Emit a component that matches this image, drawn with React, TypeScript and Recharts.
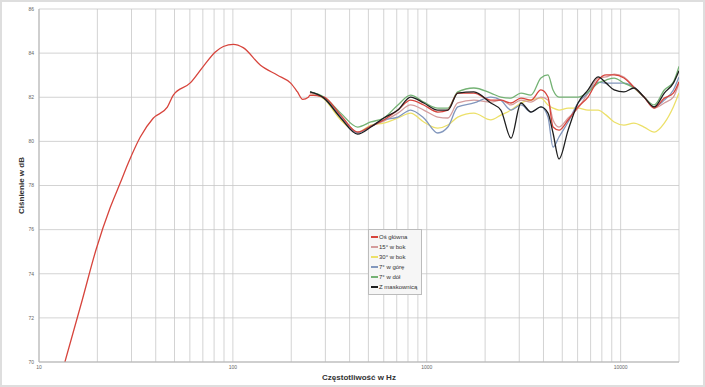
import React from 'react';
import {
  LineChart,
  Line,
  XAxis,
  YAxis,
  CartesianGrid,
  Legend,
} from 'recharts';

// low-frequency part, only the main axis was measured there
const lowFreq = [13.6, 16.7, 19.7, 23.3, 26.2, 28.8, 33.3, 38.8, 45.9, 49.3, 60.3, 70.4, 81.2, 89.3, 100.6, 113, 138.8, 170, 198, 215, 229, 245];
const lowMain = [70, 72.8, 75.1, 77.0, 78.1, 79.0, 80.2, 81.05, 81.55, 82.1, 82.65, 83.4, 84.05, 84.3, 84.4, 84.25, 83.45, 83.0, 82.65, 82.25, 81.9, 82.0];

// 250 Hz - 20 kHz, all six measurements
const freq = [250, 295, 360, 440, 515, 600, 710, 825, 965, 1140, 1285, 1445, 1750, 2140, 2410, 2720, 3060, 3450, 3880, 4220, 4480, 4810, 5360, 6030, 6790, 7650, 8420, 9260, 10400, 11700, 13200, 14900, 16800, 18700, 20000];
const mainAxis = [82.1, 82.01, 81.19, 80.42, 80.69, 80.97, 81.42, 81.87, 81.65, 81.33, 81.42, 82.19, 82.19, 81.87, 81.87, 81.74, 81.96, 81.87, 82.33, 82.01, 80.65, 80.51, 80.97, 81.56, 82.01, 82.78, 83.01, 83.01, 82.87, 82.46, 82.01, 81.51, 81.96, 82.19, 82.7];
const side15 = [82.19, 81.96, 81.15, 80.42, 80.69, 80.92, 81.28, 81.65, 81.42, 81.1, 81.06, 81.74, 81.87, 81.78, 81.87, 81.65, 81.87, 81.78, 82.01, 81.87, 80.97, 80.65, 81.06, 81.51, 82.19, 82.87, 82.92, 83.05, 82.92, 82.46, 82.01, 81.51, 81.74, 82.01, 82.64];
const side30 = [82.19, 81.92, 80.97, 80.42, 80.74, 80.83, 81.06, 81.28, 80.88, 80.6, 80.74, 81.1, 81.28, 80.97, 81.19, 81.42, 81.74, 81.87, 81.96, 81.65, 81.51, 81.42, 81.51, 81.51, 81.42, 81.42, 81.19, 80.88, 80.74, 80.83, 80.65, 80.42, 80.83, 81.56, 82.19];
const up7 = [82.24, 81.96, 81.1, 80.38, 80.69, 80.97, 81.1, 81.42, 81.06, 80.38, 80.65, 81.56, 81.74, 82.01, 81.87, 81.42, 81.65, 81.33, 81.56, 81.1, 79.74, 80.2, 80.88, 81.74, 82.19, 82.69, 82.64, 82.64, 82.64, 82.46, 82.01, 81.56, 81.87, 82.33, 82.92];
const down7 = [82.24, 82.01, 81.28, 80.65, 80.88, 81.06, 81.65, 82.1, 81.78, 81.51, 81.51, 82.24, 82.42, 82.19, 82.01, 81.96, 82.19, 82.1, 82.87, 83.01, 82.33, 82.01, 82.01, 82.01, 82.24, 82.64, 82.78, 82.87, 82.64, 82.42, 82.01, 81.65, 82.33, 82.69, 83.4];
const grill = [82.24, 81.96, 81.06, 80.33, 80.65, 81.06, 81.42, 82.01, 81.74, 81.42, 81.42, 82.19, 82.24, 81.74, 81.42, 80.15, 81.74, 81.33, 81.56, 81.28, 80.38, 79.2, 80.51, 81.74, 82.33, 82.92, 82.64, 82.33, 82.24, 82.42, 82.01, 81.56, 82.19, 82.64, 83.2];

const xGrid = [10, 20, 30, 40, 50, 60, 70, 80, 90, 100, 200, 300, 400, 500, 600, 700, 800, 900, 1000, 2000, 3000, 4000, 5000, 6000, 7000, 8000, 9000, 10000, 20000];
const xLabels = [10, 100, 1000, 10000];
const yTicks = [70, 72, 74, 76, 78, 80, 82, 84, 86];

const SERIES = [
  { key: 'main', name: 'Oś główna', color: '#d7443c' },
  { key: 'side15', name: '15° w bok', color: '#d49c9c' },
  { key: 'side30', name: '30° w bok', color: '#ece069' },
  { key: 'up7', name: '7° w górę', color: '#8297bd' },
  { key: 'down7', name: '7° w dół', color: '#74b274' },
  { key: 'grill', name: 'Z maskownicą', color: '#1e1e1e' },
];
const DRAW_ORDER = ['side30', 'side15', 'up7', 'down7', 'main', 'grill'];

const table = [
  ...lowFreq.map((f, i) => ({ f, main: lowMain[i] })),
  ...freq.map((f, i) => ({
    f,
    main: mainAxis[i],
    side15: side15[i],
    side30: side30[i],
    up7: up7[i],
    down7: down7[i],
    grill: grill[i],
  })),
];

function LegendBox() {
  return (
    <div
      style={{
        background: '#f6f6f6',
        border: '1px solid #bcbcbc',
        padding: '2px 4px 2px 2px',
        fontSize: 6,
        color: '#333',
        lineHeight: '10px',
      }}
    >
      {SERIES.map((s) => (
        <div key={s.key} style={{ display: 'flex', alignItems: 'center', whiteSpace: 'nowrap' }}>
          <span style={{ display: 'inline-block', width: 7, height: 1.5, background: s.color, marginRight: 1 }} />
          {s.name}
        </div>
      ))}
    </div>
  );
}

export default function App() {
  return (
    <div
      style={{
        position: 'relative',
        width: 705,
        height: 387,
        background: '#fff',
        fontFamily: '"Liberation Sans", Arial, sans-serif',
      }}
    >
      <style>{'body{margin:0}'}</style>
      <LineChart width={705} height={387} data={table} margin={{ top: 9, right: 26, bottom: 0, left: 0 }}>
        <CartesianGrid stroke="#c8c8c8" strokeWidth={0.8} />
        <XAxis
          dataKey="f"
          type="number"
          scale="log"
          domain={[10, 20000]}
          ticks={xGrid}
          interval={0}
          allowDataOverflow
          tickFormatter={(v: number) => (xLabels.includes(v) ? String(v) : '')}
          height={25}
          tickLine={false}
          tickSize={2}
          tickMargin={1}
          stroke="#b5b5b5"
          tick={{ fontSize: 5, fill: '#666' }}
          label={{
            value: 'Częstotliwość w Hz',
            position: 'insideBottom',
            offset: 7,
            style: { fontSize: 8, fontWeight: 700, fill: '#333' },
          }}
        />
        <YAxis
          type="number"
          domain={[70, 86]}
          ticks={yTicks}
          allowDataOverflow
          width={39}
          tickLine={false}
          tickSize={3}
          tickMargin={2}
          stroke="#b5b5b5"
          tick={{ fontSize: 5, fill: '#666' }}
          label={{
            value: 'Ciśnienie w dB',
            angle: -90,
            position: 'insideLeft',
            offset: 21,
            style: { fontSize: 8, fontWeight: 700, fill: '#333', textAnchor: 'middle' },
          }}
        />
        <Legend
          layout="vertical"
          align="center"
          verticalAlign="middle"
          content={<LegendBox />}
          wrapperStyle={{ left: 368, top: 229, width: 'auto', height: 'auto' }}
        />
        {DRAW_ORDER.map((k) => {
          const s = SERIES.find((x) => x.key === k)!;
          return (
            <Line
              key={k}
              dataKey={k}
              name={s.name}
              type="monotone"
              stroke={s.color}
              strokeWidth={1.3}
              dot={false}
              isAnimationActive={false}
            />
          );
        })}
      </LineChart>
      <div
        style={{
          position: 'absolute',
          left: 0,
          top: 0,
          width: 701,
          height: 383,
          border: '2px solid #dedede',
          pointerEvents: 'none',
        }}
      />
    </div>
  );
}
